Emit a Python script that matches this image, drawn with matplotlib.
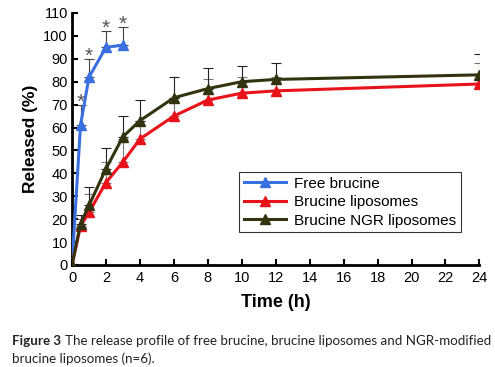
import numpy as np
import matplotlib
matplotlib.use("Agg")
import matplotlib.pyplot as plt

plt.rcParams['font.family'] = ['Liberation Sans', 'DejaVu Sans']

# ---------------- data ----------------
t_free = [0, 0.5, 1, 2, 3]
free = [0, 61, 82, 95, 96]
free_err = [0, 9, 8, 7, 8]

t_lip = [0, 0.5, 1, 2, 3, 4, 6, 8, 10, 12, 24]
lip = [0, 17, 23, 36, 45, 55, 65, 72, 75, 76, 79]
lip_err = [0, 3, 8, 9, 10, 8, 8, 9, 7, 6, 9]

ngr = [0, 18, 26, 42, 56, 63, 73, 77, 80, 81, 83]
ngr_err = [0, 4, 8, 9, 9, 9, 9, 9, 7, 7, 9]

xticks = list(range(0, 25, 2))
yticks = list(range(0, 111, 10))

c_free = '#3a6fe0'
c_lip = '#e8121a'
c_ngr = '#333310'

# ---------------- figure ----------------
fig = plt.figure(figsize=(4.95, 3.67), dpi=100)
ax = fig.add_axes([0.1455, 0.278, 0.823, 0.6866])

ax.errorbar(t_lip, lip, yerr=[np.zeros(len(lip)), lip_err], fmt='none',
            ecolor='#777777', elinewidth=0.8, capsize=3.5, capthick=0.8, zorder=1)
ax.errorbar(t_lip, ngr, yerr=[np.zeros(len(ngr)), ngr_err], fmt='none',
            ecolor='#222222', elinewidth=0.8, capsize=3.5, capthick=0.8, zorder=1)
ax.errorbar(t_free, free, yerr=[np.zeros(len(free)), free_err], fmt='none',
            ecolor='#444444', elinewidth=0.8, capsize=3.5, capthick=0.8, zorder=1)

ax.plot(t_free, free, '-^', color=c_free, lw=2.2, ms=6.5, label='Free brucine', zorder=3)
ax.plot(t_lip, lip, '-^', color=c_lip, lw=2.2, ms=6.5, label='Brucine liposomes', zorder=3)
ax.plot(t_lip, ngr, '-^', color=c_ngr, lw=2.2, ms=6.5, label='Brucine NGR liposomes', zorder=3)

# significance marks above the free drug error bars
for ti, v, e in zip(t_free[1:], free[1:], free_err[1:]):
    ax.text(ti, v + e - 3, '*', color='#555555', fontsize=15,
            ha='center', va='bottom')

ax.set_xlim(0, 24)
ax.set_ylim(0, 110)
ax.set_xticks(xticks)
ax.set_yticks(yticks)
ax.tick_params(direction='in', length=4, width=1.5, labelsize=10.5, pad=3)
ax.tick_params(axis='x', pad=4.5)
ax.spines['top'].set_visible(False)
ax.spines['right'].set_visible(False)
ax.spines['left'].set_linewidth(2)
ax.spines['bottom'].set_linewidth(2)

ax.set_xlabel('Time (h)', fontsize=13, fontweight='bold', labelpad=6)
ax.set_ylabel('Released (%)', fontsize=12.5, fontweight='bold', labelpad=4)

leg = ax.legend(loc='upper left', bbox_to_anchor=(0.41, 0.369), fontsize=11,
                frameon=True, fancybox=False, edgecolor='black',
                handlelength=2.8, borderpad=0.3, labelspacing=0.3, handletextpad=0.5,
                borderaxespad=0)
leg.get_frame().set_linewidth(0.8)

cap_font = ['Lato', 'DejaVu Sans']
fig.canvas.draw()
t1 = fig.text(0.024, 0.06, 'Figure 3', fontsize=9.6, fontweight='bold',
              family=cap_font, color='#222222')
bb = t1.get_window_extent(renderer=fig.canvas.get_renderer())
fig.text(bb.x1 / fig.bbox.width + 0.008, 0.06,
         'The release profile of free brucine, brucine liposomes and NGR-modified',
         fontsize=9.6, family=cap_font, color='#222222')
fig.text(0.024, 0.01, 'brucine liposomes (n=6).', fontsize=9.6,
         family=cap_font, color='#222222')

fig.savefig('out.png', dpi=100)
